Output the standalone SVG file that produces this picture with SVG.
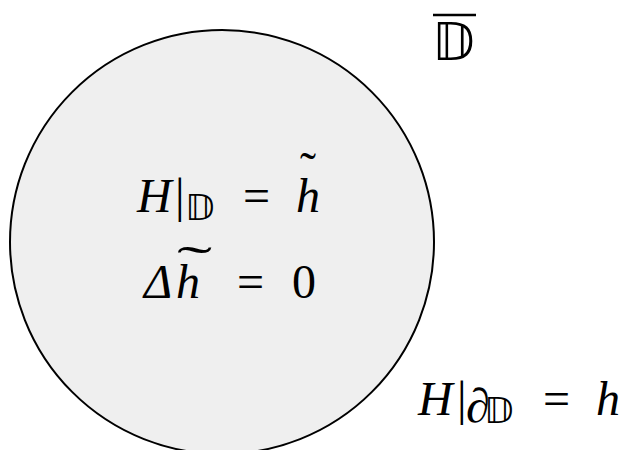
<svg xmlns="http://www.w3.org/2000/svg" width="622" height="450" viewBox="0 0 622 450">
<style>
.m{font-family:"Liberation Serif","DejaVu Serif",serif;font-size:48px;fill:#000}
.i{font-style:italic}
.ds{font-family:"DejaVu Sans","DejaVu Serif","Noto Sans",sans-serif;fill:#000}
</style>
<rect width="622" height="450" fill="#fff"/>
<g id="disk">
<circle cx="222" cy="242" r="212" fill="#efefef" stroke="#000" stroke-width="2"/>
</g>
<g id="closure-label">
<line x1="433" y1="15" x2="476" y2="15" stroke="#000" stroke-width="2.5"/>
<text class="ds" x="432" y="60" font-size="52">𝔻</text>
</g>
<g id="interior-eq1">
<text class="m i" x="137" y="212">H</text>
<text class="m" x="175" y="212">|</text>
<text class="ds" x="185" y="220" font-size="36">𝔻</text>
<text class="m" x="243" y="212">=</text>
<text class="m i" x="296" y="212">h</text>
<text class="m" x="300" y="186" font-size="44">˜</text>
</g>
<g id="interior-eq2">
<text class="m i" x="144" y="298">Δ</text>
<text class="m i" x="176" y="298">h</text>
<text class="m" transform="translate(177,280) scale(2.2,1)" font-size="44">˜</text>
<text class="m" x="237" y="298">=</text>
<text class="m" x="292" y="298">0</text>
</g>
<g id="boundary-eq">
<text class="m i" x="418" y="415">H</text>
<text class="m" x="457" y="415">|</text>
<text class="m" x="466" y="422" font-size="26">∂<tspan class="ds" x="484" y="423" font-size="36">𝔻</tspan></text>
<text class="m" x="543" y="415">=</text>
<text class="m i" x="596" y="415">h</text>
</g>
</svg>
